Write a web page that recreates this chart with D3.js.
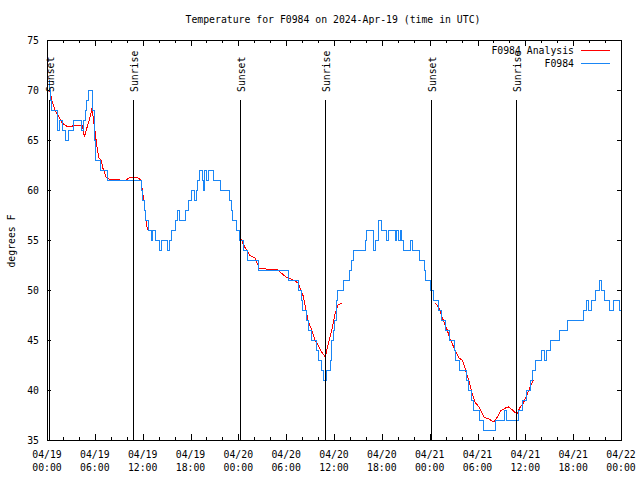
<!DOCTYPE html>
<html><head><meta charset="utf-8">
<script src="https://cdn.jsdelivr.net/npm/d3@7"></script>
<style>
body{margin:0;background:#fff}
svg{display:block}
text{font-family:"DejaVu Sans Mono","Liberation Mono",monospace;font-size:9.8px;fill:#000}
</style>
</head><body>
<svg id="c" width="640" height="480"></svg>
<script>
const title = "Temperature for F0984 on 2024-Apr-19 (time in UTC)";
const yLabel = "degrees F";
const seriesNames = ["F0984 Analysis", "F0984"];
const seriesColors = ["#ff0000", "#1a86f5"];

const xTickHours = [0, 6, 12, 18, 24, 30, 36, 42, 48, 54, 60, 66, 72];
const xTickDates = ["04/19","04/19","04/19","04/19","04/20","04/20","04/20","04/20","04/21","04/21","04/21","04/21","04/22"];
const xTickTimes = ["00:00","06:00","12:00","18:00","00:00","06:00","12:00","18:00","00:00","06:00","12:00","18:00","00:00"];
const yTicks = [35, 40, 45, 50, 55, 60, 65, 70, 75];

const sunHours = [0.29, 10.83, 24.25, 34.92, 48.18, 58.88];
const sunNames = ["Sunset", "Sunrise", "Sunset", "Sunrise", "Sunset", "Sunrise"];

// observations (hours since 04/19 00:00 UTC, degrees F), step changes
const obsHours = [0.2,0.3,0.45,0.6,1.3,1.6,2.0,2.35,2.75,3.3,4.3,4.6,4.8,5.0,5.2,5.7,5.9,6.1,6.75,7.6,
  11.8,12.0,12.2,12.4,12.7,13.05,13.26,13.6,14.1,14.3,15.15,15.36,15.6,16.1,16.4,16.6,17.4,17.7,18.1,18.5,
  18.7,18.9,19.1,19.5,19.6,19.8,20.0,20.2,20.9,21.8,22.9,23.1,23.3,23.75,24.17,24.6,25.2,26.5,30.25,31.5,
  31.9,32.1,32.5,32.8,33.2,33.8,34.0,34.45,34.7,35.0,35.5,35.7,35.9,36.1,36.3,36.5,37.2,38.0,38.2,38.4,
  39.9,40.1,40.9,41.2,41.6,42.0,42.6,42.8,43.7,43.9,44.1,44.3,44.5,44.7,45.6,45.9,46.7,47.3,47.45,48.1,
  48.5,49.1,49.5,50.0,50.5,51.1,51.2,51.8,52.6,52.9,53.3,53.5,54.3,54.8,56.3,57.4,57.6,59.1,59.6,60.2,
  60.6,60.9,61.3,62.0,62.35,62.6,63.2,64.3,65.3,67.3,67.7,67.9,68.3,68.8,69.3,69.5,69.9,70.5,71.1,71.8,72.0];
const obsTemps = [71,70,69,68,66,67,66,65,66,67,66,67,68,69,70,68,65,63,62,61,
  60,59,58,57,56,55,56,55,54,55,54,55,56,57,58,57,58,59,60,59,
  60,61,62,61,60,62,61,62,61,60,59,58,57,56,55,54,53,52,51,50,
  49,48,47,46,45,44,43,42,41,42,43,45,46,47,49,50,51,52,53,54,
  55,56,54,55,57,56,55,56,55,56,55,56,55,54,55,54,53,52,51,50,
  49,48,47,46,45,44,43,42,41,40,39,38,37,36,37,38,37,38,39,40,
  41,42,43,44,43,44,45,46,47,48,49,48,49,50,51,50,49,48,49,48,48];

// analysis (null = gap)
const anaHours = [0.25,0.6,1.1,1.5,1.9,2.6,3.2,3.8,4.45,4.7,5.0,5.3,5.6,5.7,6.05,6.2,6.5,6.8,7.0,7.4,7.8,9.1,9.7,10.3,10.7,11.4,11.8,12.0,12.2,12.4,12.6,
  18,
  24.2,24.8,25.4,26.1,26.6,27.5,28.8,29.2,30.0,30.9,31.5,32.1,32.5,32.8,33.2,33.6,34.0,34.45,34.9,35.1,35.4,35.8,36.1,36.5,37.0,
  42,
  48.7,49.1,49.6,50.2,50.6,51.2,51.65,52.1,52.5,52.9,53.3,53.75,54.2,54.8,55.4,56.05,56.5,56.9,57.5,57.9,58.4,58.8,59.0,59.3,59.75,60.2,60.6,61.0];
const anaTemps = [70.3,69,67.8,67.3,66.7,66.3,66.4,66.5,66.4,65.3,66.2,67,68,67.8,65.7,64.7,63.2,63,62.2,61.3,61.1,61,60.9,61.2,61.3,61.2,61,59.7,58.7,57,56,
  null,
  55.3,54.3,53.5,53.2,52.2,52.1,52.1,51.8,51.3,51,50.7,49.5,48,46.8,46,45,44.5,43.8,43.3,44,45,46.3,47.5,48.5,48.7,
  null,
  48.7,48.3,47.2,46,45,44,43.2,43,42,41,39.7,38.7,38.3,37.3,37.1,36.8,37.3,37.9,38.2,38.3,38,37.7,37.7,38.2,38.7,39.5,40.3,41];

const L = 47, R = 621, T = 40, B = 440;
const svg = d3.select("#c");
const x = d3.scaleLinear().domain([0, 72]).range([L, R]);
const y = d3.scaleLinear().domain([35, 75]).range([B, T]);

// title
svg.append("text").attr("x", 333).attr("y", 23).attr("text-anchor", "middle").text(title);
// y label
svg.append("text").attr("transform", "translate(15,241) rotate(-90)").attr("text-anchor", "middle").text(yLabel);

function styleAxis(g) {
  g.select(".domain").remove();
  g.selectAll("line").attr("stroke", "#000").attr("shape-rendering", "crispEdges");
  g.attr("font-family", null).attr("font-size", null);
}
const minorHours = d3.range(0, 73, 2).filter(h => h % 6 !== 0);
// bottom axis
const gb = svg.append("g").attr("transform", `translate(0,${B})`)
  .call(d3.axisBottom(x).tickValues(xTickHours).tickSizeInner(-6).tickSizeOuter(0).tickFormat(""));
styleAxis(gb);
const gbm = svg.append("g").attr("transform", `translate(0,${B})`)
  .call(d3.axisBottom(x).tickValues(minorHours).tickSizeInner(-3).tickSizeOuter(0).tickFormat(""));
styleAxis(gbm);
const gt = svg.append("g").attr("transform", `translate(0,${T})`)
  .call(d3.axisTop(x).tickValues(xTickHours).tickSizeInner(-6).tickSizeOuter(0).tickFormat(""));
styleAxis(gt);
const gtm = svg.append("g").attr("transform", `translate(0,${T})`)
  .call(d3.axisTop(x).tickValues(minorHours).tickSizeInner(-3).tickSizeOuter(0).tickFormat(""));
styleAxis(gtm);
// x labels
const xl = svg.append("g").selectAll("text").data(xTickHours).join("text")
  .attr("text-anchor", "middle");
xl.append("tspan").attr("x", d => x(d)).attr("y", 458).text((d, i) => xTickDates[i]);
xl.append("tspan").attr("x", d => x(d)).attr("y", 471).text((d, i) => xTickTimes[i]);

// left/right axis
const gl = svg.append("g").attr("transform", `translate(${L},0)`)
  .call(d3.axisLeft(y).tickValues(yTicks).tickSizeInner(-4).tickSizeOuter(0).tickPadding(8).tickFormat(d3.format("d")));
styleAxis(gl);
gl.selectAll("text").attr("fill", "#000");
const gr = svg.append("g").attr("transform", `translate(${R},0)`)
  .call(d3.axisRight(y).tickValues(yTicks).tickSizeInner(-4).tickSizeOuter(0).tickFormat(""));
styleAxis(gr);

// data
const lineA = d3.line().defined((d, i) => anaTemps[i] !== null)
  .x((d, i) => x(anaHours[i])).y((d, i) => y(anaTemps[i]));
svg.append("path").attr("d", lineA(anaHours)).attr("fill", "none")
  .attr("stroke", seriesColors[0]).attr("stroke-width", 1).attr("shape-rendering", "crispEdges");

const lineO = d3.line().curve(d3.curveStepAfter)
  .x((d, i) => x(obsHours[i])).y((d, i) => y(obsTemps[i]));
svg.append("path").attr("d", lineO(obsHours)).attr("fill", "none")
  .attr("stroke", seriesColors[1]).attr("stroke-width", 1).attr("shape-rendering", "crispEdges");

// sunrise / sunset markers
const sg = svg.append("g");
sg.selectAll("line").data(sunHours).join("line")
  .attr("x1", d => x(d)).attr("x2", d => x(d)).attr("y1", y(69)).attr("y2", y(35))
  .attr("stroke", "#000").attr("shape-rendering", "crispEdges");
sg.selectAll("text").data(sunHours).join("text")
  .attr("transform", d => `translate(${x(d) + 5},${y(69.8)}) rotate(-90)`)
  .text((d, i) => sunNames[i]);

// border
svg.append("rect").attr("x", L).attr("y", T).attr("width", R - L).attr("height", B - T)
  .attr("fill", "none").attr("stroke", "#000").attr("shape-rendering", "crispEdges");

// legend
const lg = svg.append("g");
seriesNames.forEach((n, i) => {
  const yy = 50 + i * 13;
  lg.append("text").attr("x", 574).attr("y", yy + 3.5).attr("text-anchor", "end").text(n);
  lg.append("line").attr("x1", 581).attr("x2", 610).attr("y1", yy).attr("y2", yy)
    .attr("stroke", seriesColors[i]).attr("shape-rendering", "crispEdges");
});
</script>
</body></html>
